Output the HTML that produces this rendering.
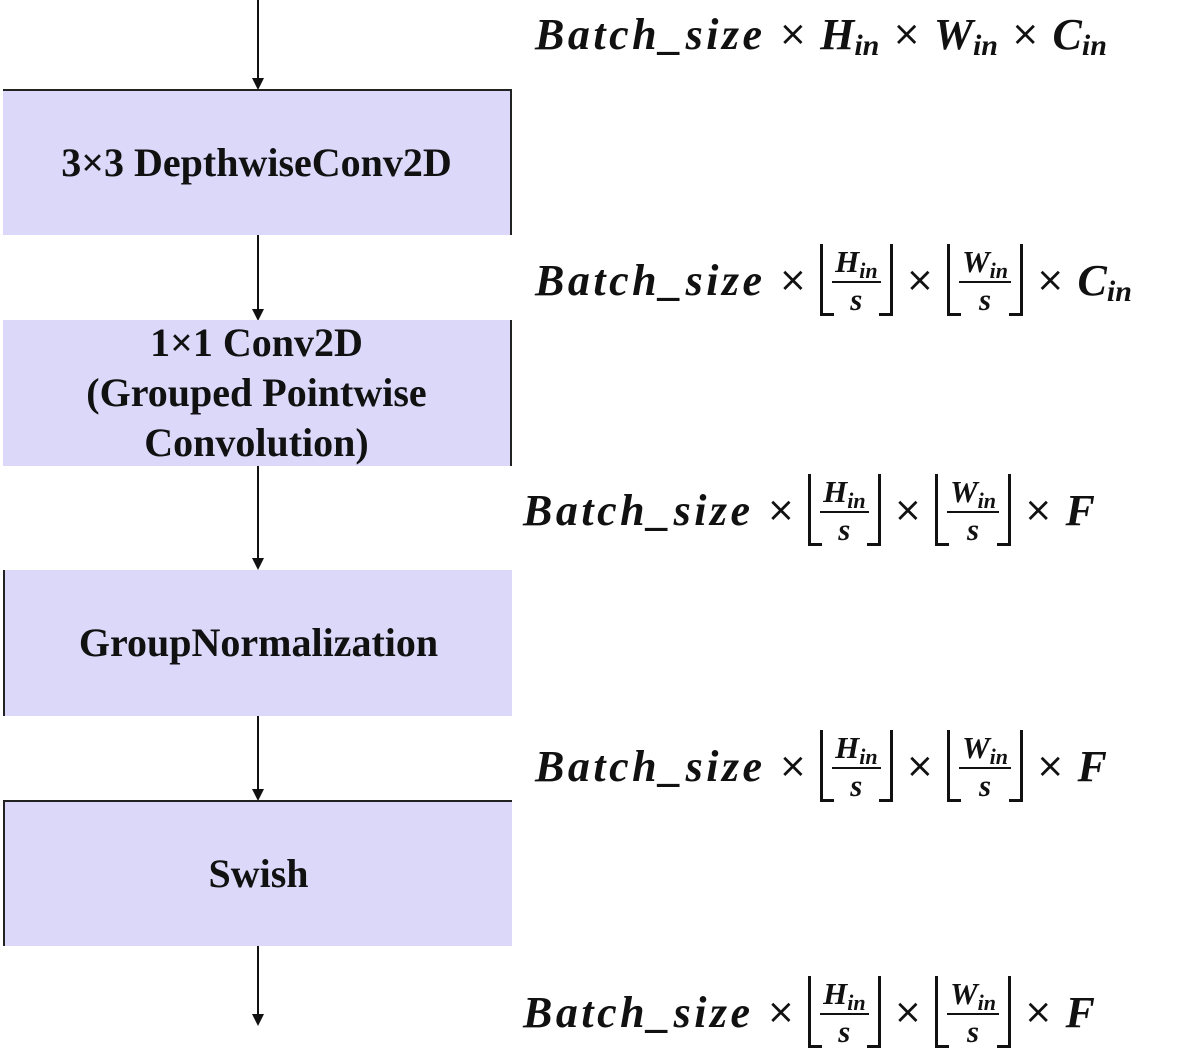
<!DOCTYPE html>
<html><head><meta charset="utf-8"><style>
body{margin:0;width:1181px;height:1054px;background:#fff;position:relative;overflow:hidden;font-family:"Liberation Serif",serif}
.box{position:absolute;left:3px;width:509px;height:146px;background:#dcd8fa;box-sizing:border-box;display:flex;align-items:center;justify-content:center;text-align:center;font-weight:bold;font-size:40px;line-height:50px;color:#111}
.ar{position:absolute;left:257px;width:2px;background:#111}
.ah{position:absolute;left:252px;width:0;height:0;border-left:6px solid transparent;border-right:6px solid transparent;border-top:12px solid #111}
.f{position:absolute;display:flex;align-items:center;font-style:italic;font-weight:bold;font-size:44px;color:#111;white-space:nowrap;height:80px}
.b{letter-spacing:3.5px}
.x{font-style:normal;font-weight:normal;margin:0 13px;font-family:"DejaVu Sans",sans-serif;font-size:34px}
.s{font-size:30px;position:relative;top:12px}
.fl{display:inline-flex;align-items:center;height:72px;border-left:3px solid #111;border-right:3px solid #111;padding:0 9px;position:relative}
.fl:before,.fl:after{content:"";position:absolute;bottom:0;width:11px;border-bottom:3px solid #111}
.fl:before{left:0}.fl:after{right:0}
.fr{display:inline-flex;flex-direction:column;align-items:center;font-size:31px;line-height:33px}
.fr .n{border-bottom:2px solid #111;padding:0 3px}
.fr .s2{font-size:22px;position:relative;top:6px}
</style></head><body>
<div class="ar" style="top:0;height:80px"></div><div class="ah" style="top:78px"></div>
<div class="box" style="top:89px;border-top:2px solid #222;border-right:2px solid #222">3×3 DepthwiseConv2D</div>
<div class="ar" style="top:235px;height:76px"></div><div class="ah" style="top:309px"></div>
<div class="box" style="top:320px;border-right:2px solid #222">1×1 Conv2D<br>(Grouped Pointwise<br>Convolution)</div>
<div class="ar" style="top:466px;height:94px"></div><div class="ah" style="top:558px"></div>
<div class="box" style="top:570px;border-left:2px solid #222">GroupNormalization</div>
<div class="ar" style="top:716px;height:74px"></div><div class="ah" style="top:789px"></div>
<div class="box" style="top:800px;border-top:2px solid #222;border-left:2px solid #222">Swish</div>
<div class="ar" style="top:946px;height:70px"></div><div class="ah" style="top:1014px"></div>

<div class="f" style="left:535px;top:-6px"><span class="b">Batch_size</span><span class="x">×</span>H<span class="s">in</span><span class="x">×</span>W<span class="s">in</span><span class="x">×</span>C<span class="s">in</span></div>

<div class="f" style="left:535px;top:240px"><span class="b">Batch_size</span><span class="x">×</span><span class="fl"><span class="fr"><span class="n">H<span class="s2">in</span></span><span>s</span></span></span><span class="x">×</span><span class="fl"><span class="fr"><span class="n">W<span class="s2">in</span></span><span>s</span></span></span><span class="x">×</span>C<span class="s">in</span></div>

<div class="f" style="left:523px;top:470px"><span class="b">Batch_size</span><span class="x">×</span><span class="fl"><span class="fr"><span class="n">H<span class="s2">in</span></span><span>s</span></span></span><span class="x">×</span><span class="fl"><span class="fr"><span class="n">W<span class="s2">in</span></span><span>s</span></span></span><span class="x">×</span>F</div>

<div class="f" style="left:535px;top:726px"><span class="b">Batch_size</span><span class="x">×</span><span class="fl"><span class="fr"><span class="n">H<span class="s2">in</span></span><span>s</span></span></span><span class="x">×</span><span class="fl"><span class="fr"><span class="n">W<span class="s2">in</span></span><span>s</span></span></span><span class="x">×</span>F</div>

<div class="f" style="left:523px;top:972px"><span class="b">Batch_size</span><span class="x">×</span><span class="fl"><span class="fr"><span class="n">H<span class="s2">in</span></span><span>s</span></span></span><span class="x">×</span><span class="fl"><span class="fr"><span class="n">W<span class="s2">in</span></span><span>s</span></span></span><span class="x">×</span>F</div>
</body></html>
